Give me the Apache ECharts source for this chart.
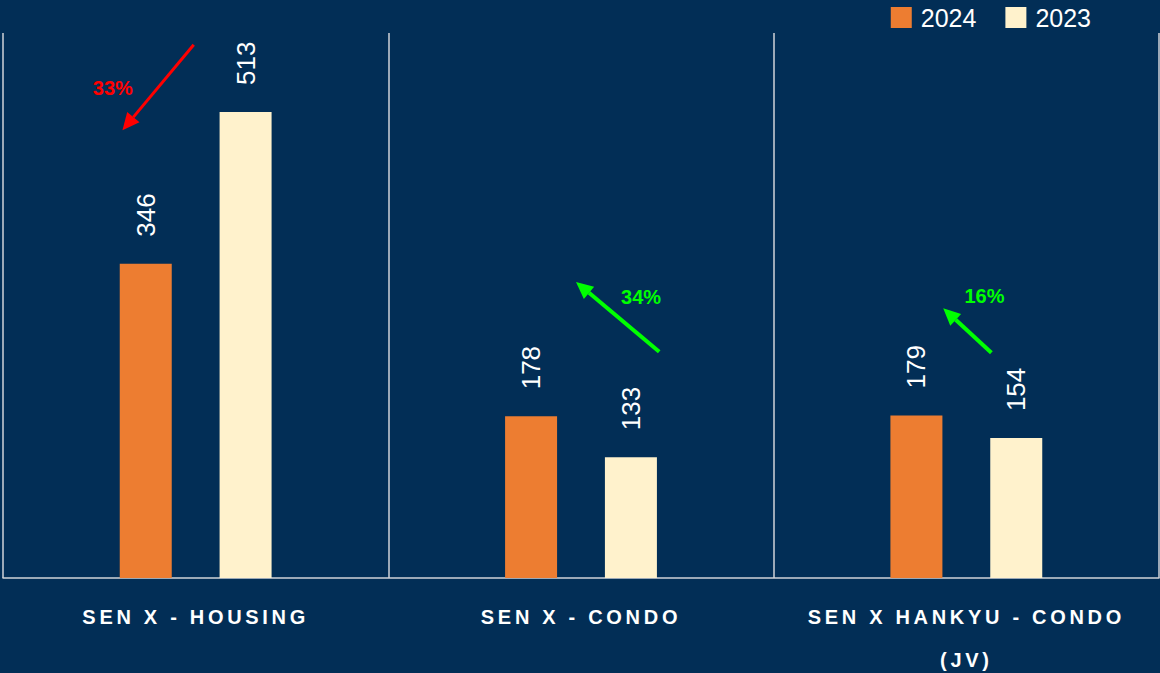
<!DOCTYPE html>
<html><head><meta charset="utf-8">
<script src="https://cdn.jsdelivr.net/npm/echarts@6/dist/echarts.min.js"></script>
<style>html,body{margin:0;padding:0;background:#022E56;}#c{width:1160px;height:673px;}</style>
</head><body><div id="c"></div>
<script>
const categories = ['SEN X - HOUSING', 'SEN X - CONDO', 'SEN X HANKYU - CONDO\n(JV)'];
const values2024 = [346, 178, 179];
const values2023 = [513, 133, 154];
const seriesNames = ['2024', '2023'];
const changeLabels = ['33%', '34%', '16%'];
const yMax = 600;
// annotation arrows: offset within category band (fraction of band) and value units
const arrowFromOffset = [-0.005, 0.203, 0.065];
const arrowFromValue = [587, 249, 248];
const arrowToOffset = [-0.19, -0.013, -0.06];
const arrowToValue = [493, 326, 297];
const changeLabelOffset = [-0.215, 0.156, 0.047];
const changeLabelValue = [539, 309, 310];

const arrowColors = ['#FF0000', '#00FF00', '#00FF00'];
const FONT = '"Liberation Sans", Arial, sans-serif';

const arrowData = categories.map((c, i) => [i, arrowFromOffset[i], arrowFromValue[i], arrowToOffset[i], arrowToValue[i], changeLabelOffset[i], changeLabelValue[i]]);

function renderArrow(params, api) {
  const i = params.dataIndex;
  const c = api.value(0);
  const bw = api.size([1, 0])[0];
  const p0 = api.coord([c, api.value(2)]); p0[0] += api.value(1) * bw;
  const p1 = api.coord([c, api.value(4)]); p1[0] += api.value(3) * bw;
  const pl = api.coord([c, api.value(6)]); pl[0] += api.value(5) * bw;
  const col = arrowColors[i];
  const dx = p1[0] - p0[0], dy = p1[1] - p0[1], len = Math.hypot(dx, dy);
  const ux = dx / len, uy = dy / len;
  const headLen = 17, headW = 8;
  const base = [p1[0] - ux * headLen, p1[1] - uy * headLen];
  const nx = -uy, ny = ux;
  return {
    type: 'group',
    children: [
      { type: 'line', shape: { x1: p0[0], y1: p0[1], x2: base[0], y2: base[1] }, style: { stroke: col, lineWidth: i === 0 ? 3 : 4 } },
      { type: 'polygon', shape: { points: [p1, [base[0] + nx * headW, base[1] + ny * headW], [base[0] - nx * headW, base[1] - ny * headW]] }, style: { fill: col } },
      { type: 'text', x: pl[0], y: pl[1], style: { text: changeLabels[i], fill: col, font: 'bold 20px ' + FONT, align: 'center', verticalAlign: 'middle' } }
    ]
  };
}

const barLabel = {
  show: true, position: 'top', rotate: 90, distance: 27,
  align: 'left', verticalAlign: 'middle',
  color: '#FFFFFF', fontSize: 26, fontFamily: FONT
};

const chart = echarts.init(document.getElementById('c'), null, { renderer: 'svg' });
chart.setOption({
  backgroundColor: '#022E56',
  animation: false,
  grid: { left: 3, right: 1, top: 33, bottom: 95, outerBoundsMode: 'none', containLabel: false },
  legend: {
    data: seriesNames, right: 64, top: 0, itemWidth: 21, itemHeight: 21, itemGap: 29,
    icon: 'rect',
    textStyle: { color: '#FFFFFF', fontSize: 25, fontFamily: FONT, padding: [0, 0, 0, 4] }
  },
  xAxis: {
    type: 'category', data: categories,
    axisLine: { lineStyle: { color: '#D0D3D8', width: 1.5 } },
    axisTick: { show: false },
    splitLine: { show: true, lineStyle: { color: '#D0D3D8', width: 1.5 } },
    axisLabel: { color: '#FFFFFF', fontWeight: 'bold', fontSize: 20, fontFamily: FONT, margin: 17, lineHeight: 43, interval: 0 }
  },
  yAxis: { type: 'value', min: 0, max: yMax, show: false },
  series: [
    { name: seriesNames[0], type: 'bar', data: values2024, barWidth: 52, barGap: '92%', itemStyle: { color: '#ED7D31' }, label: barLabel },
    { name: seriesNames[1], type: 'bar', data: values2023, barWidth: 52, itemStyle: { color: '#FFF2CC' }, label: barLabel },
    { type: 'custom', data: arrowData, renderItem: renderArrow, encode: { x: 0, y: 2 }, clip: false, silent: true, z: 5 }
  ]
});

const spacedLines = new Set(['SEN X - HOUSING', 'SEN X - CONDO', 'SEN X HANKYU - CONDO', '(JV)']);
function applySpacing() {
  document.querySelectorAll('#c svg text').forEach(t => {
    if (spacedLines.has(t.textContent.trim())) t.style.letterSpacing = '3.7px';
  });
}
chart.on('finished', applySpacing);
applySpacing();
setTimeout(applySpacing, 50);
</script>
</body></html>
